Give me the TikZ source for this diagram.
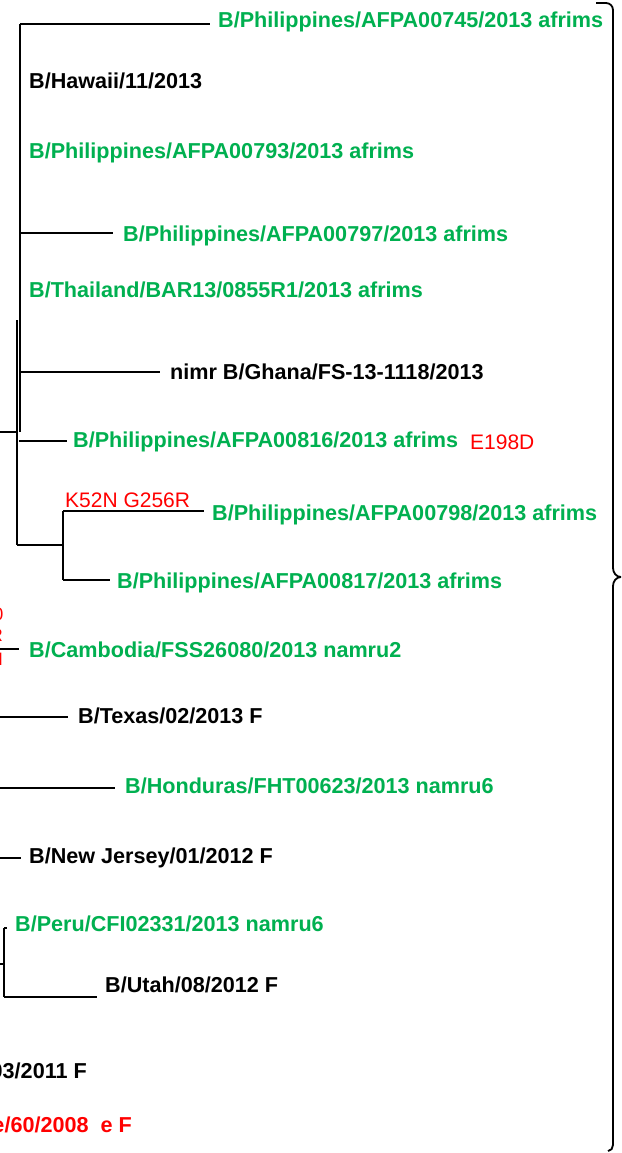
\documentclass[tikz,border=0pt]{standalone}
\usepackage{fontspec}
\setmainfont{Liberation Sans}
\definecolor{tgreen}{RGB}{0,176,80}
\definecolor{tred}{RGB}{255,0,0}
\tikzset{
  lab/.style={anchor=base west, inner sep=0pt, font=\bfseries\fontsize{21.6}{25}\selectfont},
  labe/.style={anchor=base east, inner sep=0pt, font=\bfseries\fontsize{21.6}{25}\selectfont},
  mut/.style={anchor=base west, inner sep=0pt, text=tred, font=\fontsize{21}{25}\selectfont},
  frag/.style={anchor=base east, inner sep=0pt, text=tred, font=\fontsize{18}{22}\selectfont},
  gr/.style={text=tgreen},
  bl/.style={text=black},
  rd/.style={text=tred},
  br/.style={line width=1.4pt, black},
  brace/.style={line width=1.8pt, black}
}
\begin{document}
\begin{tikzpicture}[x=1pt,y=-1pt]
\useasboundingbox (0,0) rectangle (621,1153);
\clip (0,0) rectangle (621,1153);
\fill[white] (0,0) rectangle (621,1153);

% ---------- labels, top clade ----------
\node[lab,gr] (t1) at (218,28) {B/Philippines/AFPA00745/2013 afrims};
\node[lab,bl] (t2) at (29,89) {B/Hawaii/11/2013};
\node[lab,gr] (t3) at (29,158) {B/Philippines/AFPA00793/2013 afrims};
\node[lab,gr] (t4) at (123,241) {B/Philippines/AFPA00797/2013 afrims};
\node[lab,gr] (t5) at (29,297) {B/Thailand/BAR13/0855R1/2013 afrims};
\node[lab,bl] (t6) at (170,379) {nimr B/Ghana/FS-13-1118/2013};
\node[lab,gr] (t7) at (73,447) {B/Philippines/AFPA00816/2013 afrims};
\node[mut] (m7) at (470,449) {E198D};
\node[mut] (m8) at (65,507) {K52N G256R};
\node[lab,gr] (t8) at (212,520) {B/Philippines/AFPA00798/2013 afrims};
\node[lab,gr] (t9) at (117,588) {B/Philippines/AFPA00817/2013 afrims};

% ---------- labels, bottom clade ----------
\node[frag] (f1) at (3.5,620) {0};
\node[frag] (f2) at (3,641) {R};
\node[frag] (f3) at (3,665) {N};
\node[lab,gr] (t10) at (29,657) {B/Cambodia/FSS26080/2013 namru2};
\node[lab,bl] (t11) at (78,723) {B/Texas/02/2013 F};
\node[lab,gr] (t12) at (125,793) {B/Honduras/FHT00623/2013 namru6};
\node[lab,bl] (t13) at (29,863) {B/New Jersey/01/2012 F};
\node[lab,gr] (t14) at (15,931) {B/Peru/CFI02331/2013 namru6};
\node[lab,bl] (t15) at (105,992) {B/Utah/08/2012 F};
\node[labe,bl] (t16) at (87,1078) {03/2011 F};
\node[labe,rd] (t17) at (132,1132) {e/60/2008\ \ e F};

% ---------- tree coordinates ----------
\coordinate (a0) at (20,24);
\coordinate (a1) at (20,432);
\coordinate (e1) at (210,24);
\coordinate (a4) at (20,233);
\coordinate (e4) at (113,233);
\coordinate (a6) at (20,372);
\coordinate (e6) at (160,372);
\coordinate (s0) at (0,432);
\coordinate (s1) at (17,432);
\coordinate (b0) at (17,320);
\coordinate (b1) at (17,545);
\coordinate (a7) at (19,441);
\coordinate (e7) at (67,441);
\coordinate (c0) at (63,545);
\coordinate (c8) at (63,511);
\coordinate (e8) at (204,511);
\coordinate (c9) at (63,580);
\coordinate (e9) at (110,580);

\coordinate (g10) at (0,649);  \coordinate (e10) at (19,649);
\coordinate (g11) at (0,717);  \coordinate (e11) at (68,717);
\coordinate (g12) at (0,788);  \coordinate (e12) at (115,788);
\coordinate (g13) at (0,858);  \coordinate (e13) at (21,858);
\coordinate (g14) at (0,964);  \coordinate (p0) at (4,964);
\coordinate (p1) at (4,928);   \coordinate (e14) at (7,928);
\coordinate (p2) at (4,997);   \coordinate (e15) at (97,997);

% ---------- tree branches ----------
\draw[br] (a0) -- (a1);
\draw[br] (a0) -- (e1);
\draw[br] (a4) -- (e4);
\draw[br] (a6) -- (e6);
\draw[br] (s0) -- (s1);
\draw[br] (b0) -- (b1);
\draw[br] (a7) -- (e7);
\draw[br] (b1) -- (c0);
\draw[br] (c8) -- (c9);
\draw[br] (c8) -- (e8);
\draw[br] (c9) -- (e9);

\draw[br] (g10) -- (e10);
\draw[br] (g11) -- (e11);
\draw[br] (g12) -- (e12);
\draw[br] (g13) -- (e13);
\draw[br] (g14) -- (p0);
\draw[br] (p1) -- (p2);
\draw[br] (p1) -- (e14);
\draw[br] (p2) -- (e15);

% ---------- brace ----------
\coordinate (q0) at (596,3);
\coordinate (q1) at (606,3);
\coordinate (q2) at (613,10);
\coordinate (q3) at (613,568);
\coordinate (tip) at (621,577);
\coordinate (q4) at (613,586);
\coordinate (q5) at (613,1145);
\coordinate (q6) at (608,1151);
\draw[brace] (q0) -- (q1) to[out=0,in=90] (q2) -- (q3)
  to[out=-90,in=180] (tip) to[out=180,in=90] (q4) -- (q5)
  to[out=-90,in=0] (q6);
\end{tikzpicture}
\end{document}
